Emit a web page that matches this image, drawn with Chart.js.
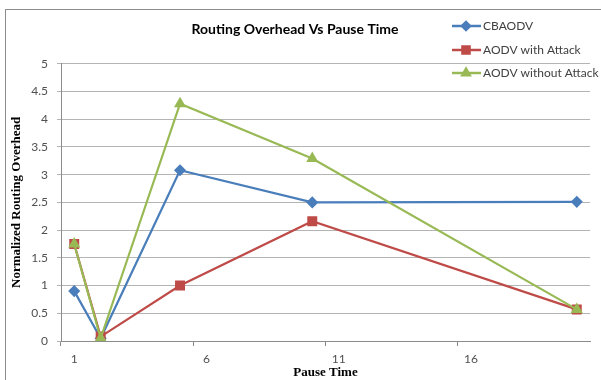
<!DOCTYPE html>
<html>
<head>
<meta charset="utf-8">
<title>Routing Overhead Vs Pause Time</title>
<script src="https://cdn.jsdelivr.net/npm/chart.js@4/dist/chart.umd.min.js"></script>
<style>
  html, body { margin: 0; padding: 0; background: #fff; }
  #wrap { position: relative; width: 601px; height: 380px; }
</style>
</head>
<body>
<div id="wrap"><canvas id="mainChart" width="601" height="380"></canvas></div>
<script>
// pause time categories shown on the x axis
const CATEGORIES = Array.from({ length: 20 }, (_, i) => String(i + 1));
const PAUSE_TIMES = ['1', '2', '5', '10', '20'];
const CBAODV = [0.9, 0.05, 3.08, 2.5, 2.51];
const AODV_ATTACK = [1.75, 0.08, 1.0, 2.16, 0.57];
const AODV_NO_ATTACK = [1.75, 0.05, 4.28, 3.29, 0.57];
const SERIES_NAMES = ['CBAODV', 'AODV with Attack', 'AODV without Attack'];

const TICK_FONT = { family: 'Lato', size: 12 };
const AXIS_GRAY = '#8c8c8c';

function toPoints(values) {
    return PAUSE_TIMES.map((t, i) => ({ x: t, y: values[i] }));
}

// outer frame and legend in the top right corner
const frameAndLegend = {
    id: 'frameAndLegend',
    beforeDraw(chart) {
        const ctx = chart.ctx;
        ctx.save();
        ctx.strokeStyle = '#8c8c8c';
        ctx.lineWidth = 1;
        ctx.strokeRect(5.5, 9.5, 700, 500);
        ctx.restore();
    },
    afterDraw(chart) {
        const ctx = chart.ctx;
        const rows = [26, 50, 73];
        ctx.save();
        chart.data.datasets.forEach((ds, i) => {
            const y = rows[i];
            ctx.strokeStyle = ds.borderColor;
            ctx.lineWidth = 2.5;
            ctx.beginPath();
            ctx.moveTo(452, y);
            ctx.lineTo(481, y);
            ctx.stroke();
            ctx.fillStyle = ds.backgroundColor;
            ctx.strokeStyle = ds.backgroundColor;
            Chart.helpers.drawPoint(ctx, {
                pointStyle: ds.pointStyle,
                radius: ds.pointRadius - 0.5,
                rotation: 0,
                borderWidth: 1
            }, 466, y);
            ctx.fillStyle = '#404040';
            ctx.font = '12px Lato';
            ctx.textAlign = 'left';
            ctx.textBaseline = 'middle';
            ctx.fillText(ds.label, 483, y);
        });
        ctx.restore();
    }
};

const CHART = new Chart(document.getElementById('mainChart').getContext('2d'), {
    type: 'line',
    data: {
        labels: CATEGORIES,
        datasets: [{
            label: SERIES_NAMES[0],
            data: toPoints(CBAODV),
            borderColor: '#4a7ebb',
            backgroundColor: '#4a7ebb',
            pointStyle: 'rectRot',
            pointRadius: 4.5,
            borderWidth: 2.2,
            order: 2
        }, {
            label: SERIES_NAMES[1],
            data: toPoints(AODV_ATTACK),
            borderColor: '#be4b48',
            backgroundColor: '#be4b48',
            pointStyle: 'rect',
            pointRadius: 5.5,
            borderWidth: 2.2,
            order: 1
        }, {
            label: SERIES_NAMES[2],
            data: toPoints(AODV_NO_ATTACK),
            borderColor: '#98b954',
            backgroundColor: '#98b954',
            pointStyle: 'triangle',
            pointRadius: 4.8,
            borderWidth: 2.2,
            order: 0
        }]
    },
    options: {
        responsive: false,
        animation: false,
        layout: { padding: { left: 0, right: 11, top: 0, bottom: 0 } },
        elements: { line: { tension: 0 } },
        plugins: {
            legend: { display: false },
            tooltip: { enabled: false },
            title: {
                display: true,
                text: 'Routing Overhead Vs Pause Time',
                color: '#000',
                font: { family: 'Lato', size: 14, weight: 'bold' },
                padding: { top: 21, bottom: 26 }
            }
        },
        scales: {
            x: {
                type: 'category',
                offset: true,
                grid: {
                    offset: true,
                    drawOnChartArea: false,
                    tickLength: 5,
                    color: (c) => c.index % 5 === 0 ? AXIS_GRAY : 'rgba(0,0,0,0)'
                },
                border: { color: AXIS_GRAY },
                ticks: {
                    autoSkip: false,
                    maxRotation: 0,
                    padding: 6,
                    color: '#505050',
                    font: TICK_FONT,
                    callback: (v, i) => i % 5 === 0 ? CATEGORIES[i] : ''
                },
                title: {
                    display: true,
                    text: 'Pause Time',
                    color: '#000',
                    font: { family: 'Liberation Serif', size: 13, weight: 'bold' },
                    padding: { top: 0, bottom: 0 }
                },
                afterFit(scale) { scale.height = 39; }
            },
            y: {
                min: 0,
                max: 5,
                grid: { color: '#b4b4b4', tickLength: 4 },
                border: { color: AXIS_GRAY },
                ticks: {
                    stepSize: 0.5,
                    padding: 9,
                    color: '#505050',
                    font: TICK_FONT,
                    callback: (v) => String(Math.round(v * 10) / 10)
                },
                title: {
                    display: true,
                    text: 'Normalized Routing Overhead',
                    color: '#000',
                    font: { family: 'Liberation Serif', size: 13, weight: 'bold' },
                    padding: { top: 9, bottom: 0 }
                },
                afterFit(scale) { scale.width = 61; }
            }
        }
    },
    plugins: [frameAndLegend]
});
</script>
</body>
</html>
